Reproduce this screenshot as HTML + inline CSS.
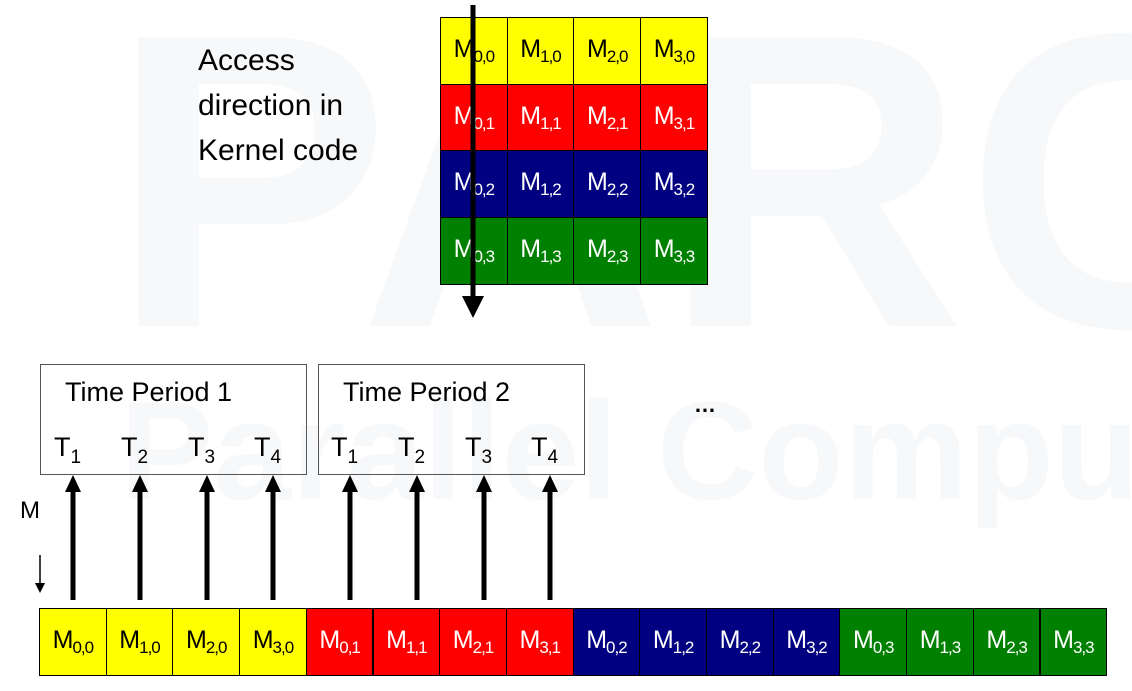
<!DOCTYPE html>
<html><head><meta charset="utf-8">
<style>
body{margin:0;width:1132px;height:691px;overflow:hidden;background:#fff;position:relative;font-family:"Liberation Sans",sans-serif;}
.abs{position:absolute;}
.cell{position:absolute;box-sizing:border-box;border:1px solid #000;font-size:25px;line-height:1;display:flex;align-items:center;justify-content:center;letter-spacing:-1px;}
.cell sub{font-size:17px;vertical-align:-5px;}
#wmbox{position:absolute;left:0;top:0;width:1132px;height:691px;overflow:hidden;}
.wm{position:absolute;color:#f7f8fa;font-weight:bold;white-space:nowrap;}
.lbl{position:absolute;font-size:27px;color:#000;white-space:nowrap;}
.lbl sub{font-size:19px;vertical-align:-7px;}
.box{position:absolute;border:1.5px solid #555;box-sizing:border-box;}
</style></head><body>
<div id="wmbox">
<div class="wm" style="left:110px;top:-60px;font-size:420px;">PARC</div>
<div class="wm" style="left:120px;top:370px;font-size:140px;">Parallel Computing</div>
</div>
<div class="abs" style="left:198px;top:38px;font-size:30px;line-height:45px;">Access<br>direction in<br>Kernel code</div>
<div id="matrix"></div>
<div id="row"></div>
<div class="box" style="left:40px;top:364px;width:267px;height:111px;"></div>
<div class="box" style="left:318px;top:364px;width:267px;height:111px;"></div>
<div class="lbl" style="left:65px;top:377px;">Time Period 1</div>
<div class="lbl" style="left:343px;top:377px;">Time Period 2</div>
<div class="lbl" style="left:694px;top:392px;font-weight:bold;font-size:22px;">…</div>
<div class="lbl" style="left:20px;top:497px;font-size:24px;">M</div>
<svg id="arrows" class="abs" style="left:0;top:0" width="1132" height="691"></svg>
<script>
const colors=['#ffff00','#ff0000','#000080','#008000'];
const textColors=['#000','#fff','#fff','#fff'];
const cw=66.7;
const matrix=document.getElementById('matrix');
for(let r=0;r<4;r++)for(let c=0;c<4;c++){
 const d=document.createElement('div');d.className='cell';
 d.style.cssText=`left:${440+c*cw}px;top:${17+r*cw}px;width:${cw+1}px;height:${cw+1}px;background:${colors[r]};color:${textColors[r]}`;
 d.innerHTML=`<span>M<sub>${c},${r}</sub></span>`;
 
 
 matrix.appendChild(d);
}
const row=document.getElementById('row');
for(let i=0;i<16;i++){
 const r=Math.floor(i/4),c=i%4;
 const d=document.createElement('div');d.className='cell';
 d.style.cssText=`left:${39+i*cw}px;top:608px;width:${cw+1}px;height:68px;background:${colors[r]};color:${textColors[r]}`;
 d.innerHTML=`<span>M<sub>${c},${r}</sub></span>`;
 
 
 row.appendChild(d);
}
const tx=[73,140,207,273,350,417,484,550];
tx.forEach((x,i)=>{
 const t=document.createElement('div');t.className='lbl';
 t.style.left=(x-19)+'px';t.style.top='432px';
 t.innerHTML=`T<sub>${i%4+1}</sub>`;
 
 
 document.body.appendChild(t);
});
const svg=document.getElementById('arrows');
let s='';
tx.forEach(x=>{s+=`<line x1="${x}" y1="600" x2="${x}" y2="490" stroke="#000" stroke-width="5"/><polygon points="${x-8},492 ${x+8},492 ${x},475" fill="#000"/>`;});
s+=`<line x1="473" y1="5" x2="473" y2="298" stroke="#000" stroke-width="5"/><polygon points="462,296 484,296 473,318" fill="#000"/>`;
s+=`<line x1="40" y1="555" x2="40" y2="585" stroke="#000" stroke-width="1.5"/><polygon points="35,583 45,583 40,593" fill="#000"/>`;
svg.innerHTML=s;
</script>
</body></html>
